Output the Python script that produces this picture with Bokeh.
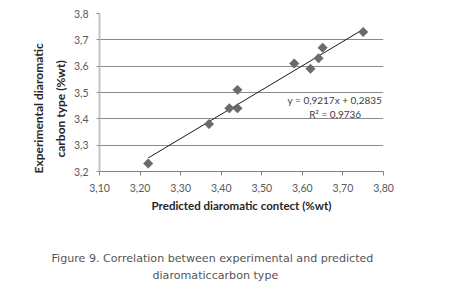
import math
from bokeh.plotting import figure
from bokeh.models import Range1d, FixedTicker, Label, Title
from bokeh.embed import file_html
from bokeh.resources import INLINE

# ---- data ----
predicted = [3.22, 3.37, 3.42, 3.44, 3.44, 3.58, 3.62, 3.64, 3.65, 3.75]
experimental = [3.23, 3.38, 3.44, 3.44, 3.51, 3.61, 3.59, 3.63, 3.67, 3.73]
slope = 0.9217
intercept = 0.2835
equation_text = "y = 0,9217x + 0,2835"
r2_text = "R² = 0,9736"
x_ticks = [3.10, 3.20, 3.30, 3.40, 3.50, 3.60, 3.70, 3.80]
x_tick_labels = ["3,10", "3,20", "3,30", "3,40", "3,50", "3,60", "3,70", "3,80"]
y_ticks = [3.2, 3.3, 3.4, 3.5, 3.6, 3.7, 3.8]
y_tick_labels = ["3,2", "3,3", "3,4", "3,5", "3,6", "3,7", "3,8"]
x_title = "Predicted diaromatic contect (%wt)"
y_title = ["Experimental diaromatic", "carbon type (%wt)"]
caption = ["Figure 9.  Correlation between experimental and predicted",
           "diaromaticcarbon type"]

FONT = "Lato"

p = figure(frame_width=284, frame_height=158,
           min_border_left=99, min_border_right=57,
           min_border_top=13, min_border_bottom=2,
           x_range=Range1d(x_ticks[0], x_ticks[-1]),
           y_range=Range1d(y_ticks[0], y_ticks[-1]),
           output_backend="svg", toolbar_location=None)
p.outline_line_color = None
p.background_fill_color = "white"
p.border_fill_color = "white"

# grid
p.xgrid.grid_line_color = None
p.ygrid.grid_line_color = "#8a8a8a"
p.ygrid.grid_line_width = 1

# x axis
p.xaxis.ticker = FixedTicker(ticks=x_ticks)
p.xaxis.major_label_overrides = dict(zip(x_ticks, x_tick_labels))
p.xaxis.axis_line_color = "#808080"
p.xaxis.major_tick_line_color = "#808080"
p.xaxis.major_tick_out = 4
p.xaxis.major_tick_in = 0
p.xaxis.minor_tick_line_color = None
p.xaxis.major_label_standoff = 8
p.xaxis.major_label_text_font = FONT
p.xaxis.major_label_text_font_size = "10.5px"
p.xaxis.major_label_text_color = "#595959"
p.xaxis.axis_label = x_title
p.xaxis.axis_label_standoff = 4
p.xaxis.axis_label_text_font = FONT
p.xaxis.axis_label_text_font_style = "bold"
p.xaxis.axis_label_text_font_size = "11.5px"
p.xaxis.axis_label_text_color = "#262626"

# y axis
p.yaxis.ticker = FixedTicker(ticks=y_ticks)
p.yaxis.major_label_overrides = dict(zip(y_ticks, y_tick_labels))
p.yaxis.axis_line_color = "#c4c4c4"
p.yaxis.axis_line_width = 2
p.yaxis.major_tick_line_color = "#8a8a8a"
p.yaxis.major_tick_out = 3
p.yaxis.major_tick_in = 0
p.yaxis.minor_tick_line_color = None
p.yaxis.major_label_standoff = 8
p.yaxis.major_label_text_font = FONT
p.yaxis.major_label_text_font_size = "10.5px"
p.yaxis.major_label_text_color = "#595959"

# y axis title (two lines, nearest line first)
for t, off, so in [(y_title[1], 14, 6), (y_title[0], -2, 4)]:
    p.add_layout(Title(text=t, align="left", offset=off, standoff=so,
                       text_font=FONT, text_font_style="bold",
                       text_font_size="12px", text_color="#262626"), "left")

# spacer between axis title and caption
p.add_layout(Title(text="\u00a0", standoff=32, text_font_size="2px"), "below")
# caption
for t, off, so in [(caption[0], -48, 2), (caption[1], 53, 2)]:
    p.add_layout(Title(text=t, align="left", offset=off, standoff=so,
                       vertical_align="top",
                       text_font="DejaVu Sans", text_font_style="normal",
                       text_font_size="11.1px", text_color="#555555"), "below")

# trend line
x0, x1 = min(predicted), max(predicted)
p.line([x0, x1], [slope * x0 + intercept, slope * x1 + intercept],
       line_color="#1a1a1a", line_width=1)

# points
p.scatter(predicted, experimental, marker="square", angle=math.pi / 4,
          size=6.7, fill_color="#6b6b6b", line_color="#5e5e5e", line_width=0.5)

# equation
eq_style = dict(text_font=FONT, text_font_size="10px", text_color="#404040",
                text_align="center", text_baseline="middle")
p.add_layout(Label(x=3.680, y=3.470, text=equation_text, **eq_style))
p.add_layout(Label(x=3.681, y=3.417, text=r2_text, **eq_style))

open("out.html", "w").write(file_html(p, INLINE))
